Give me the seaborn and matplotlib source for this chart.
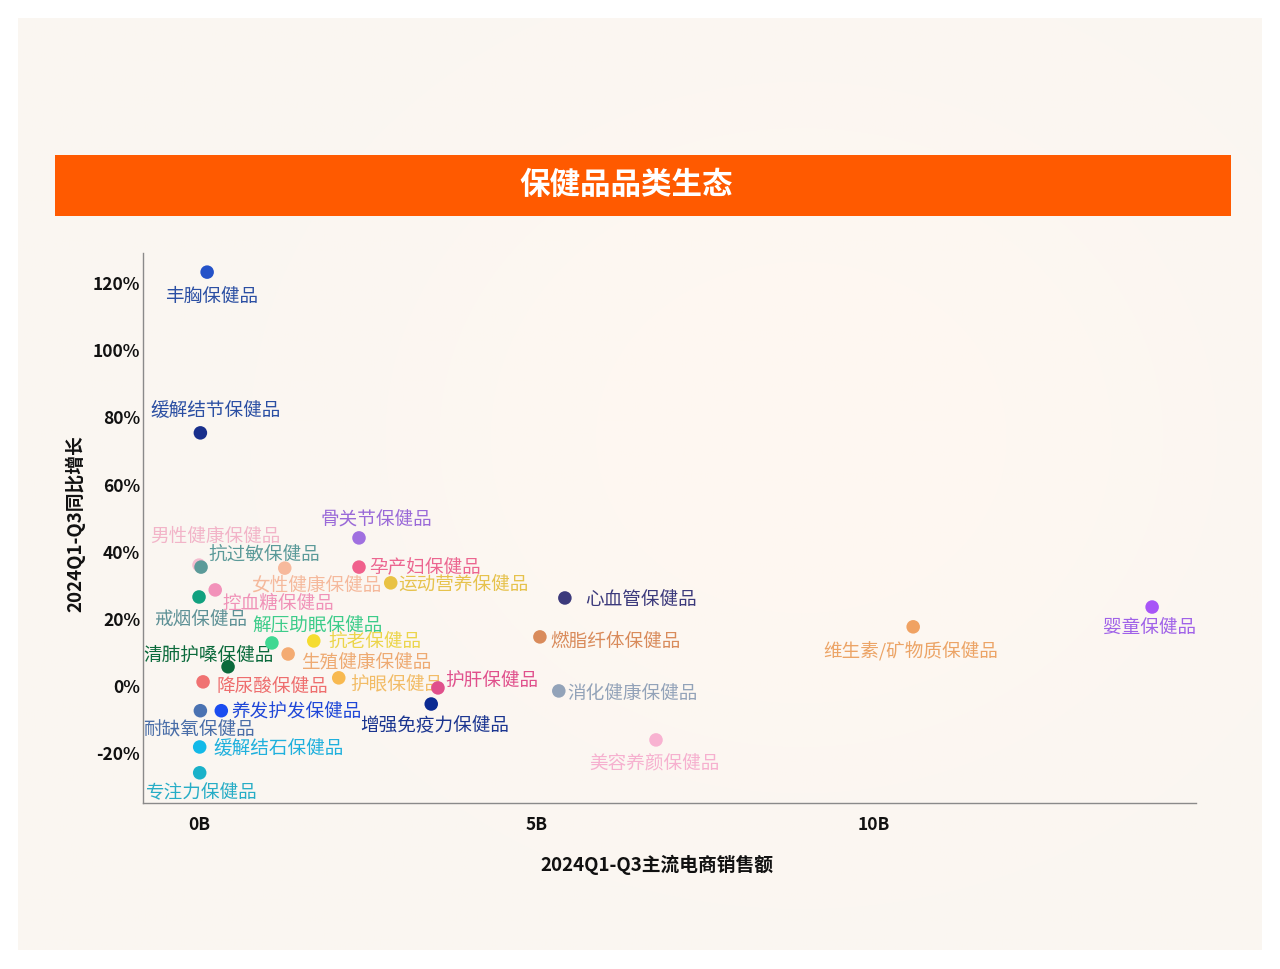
import numpy as np
import pandas as pd
import matplotlib
matplotlib.use("Agg")
import matplotlib.pyplot as plt
from matplotlib.patches import Rectangle
from matplotlib.colors import to_rgb
import seaborn as sns

# data
categories = [
    "丰胸保健品", "缓解结节保健品", "骨关节保健品", "男性健康保健品", "抗过敏保健品",
    "女性健康保健品", "孕产妇保健品", "运动营养保健品", "控血糖保健品", "戒烟保健品",
    "心血管保健品", "婴童保健品", "维生素/矿物质保健品", "燃脂纤体保健品", "解压助眠保健品",
    "抗老保健品", "生殖健康保健品", "清肺护嗓保健品", "护眼保健品", "护肝保健品",
    "降尿酸保健品", "消化健康保健品", "增强免疫力保健品", "养发护发保健品", "耐缺氧保健品",
    "缓解结石保健品", "美容养颜保健品", "专注力保健品",
]
sales_b = [
    0.12, 0.02, 2.37, 0.00, 0.03,
    1.27, 2.37, 2.84, 0.24, 0.00,
    5.42, 14.12, 10.58, 5.05, 1.08,
    1.70, 1.32, 0.43, 2.07, 3.54,
    0.06, 5.33, 3.44, 0.33, 0.02,
    0.01, 6.77, 0.01,
]
growth_pct = [
    123.3, 75.4, 44.1, 36.0, 35.4,
    35.1, 35.4, 30.7, 28.6, 26.5,
    26.2, 23.5, 17.6, 14.6, 12.8,
    13.4, 9.5, 5.7, 2.4, -0.6,
    1.2, -1.5, -5.4, -7.4, -7.4,
    -18.2, -16.1, -25.9,
]

# styling: dot colour, label colour, label offset (px) and alignment
dot_colors = [
    "#2452c8", "#182f8c", "#a070e0", "#f4bccf", "#5b9a99",
    "#f7b99c", "#f0608c", "#e9c244", "#f292ba", "#11a17f",
    "#3c3a7c", "#a855f7", "#f0a262", "#d98b5b", "#3fd892",
    "#f5dc30", "#f4ab72", "#0b6a3c", "#f8b950", "#e0508c",
    "#f07272", "#93a3b9", "#0b2a92", "#1a4cf0", "#4a72b2",
    "#12b9e8", "#f8b2d1", "#19b1c9",
]
label_colors = [
    "#2b4fa3", "#2b4fa3", "#9a6ad8", "#f2b4c8", "#5b9a99",
    "#f5b99c", "#ec6690", "#e6c24c", "#f092b8", "#5e9196",
    "#3c3a7c", "#a062e8", "#eca466", "#d98b5b", "#3dcc8a",
    "#ecd54a", "#eeaa72", "#0b6a3c", "#f2bc66", "#e0508c",
    "#ee6e6e", "#93a3b9", "#1b3590", "#1f47d8", "#4a6ea8",
    "#1fb0dd", "#f6b0cf", "#27adc6",
]
label_offsets = [
    (4, -23, "center"), (15, 24, "center"), (17, 20, "center"), (16, 30, "center"), (7, 14, "left"),
    (32, -15, "center"), (10, 2, "left"), (8, 0, "left"), (7, -12, "left"), (2, -21, "center"),
    (20, 0, "left"), (-3, -19, "center"), (-2, -22, "center"), (10, -3, "left"), (46, 20, "center"),
    (15, 1, "left"), (13, -6, "left"), (-20, 13, "center"), (12, -4, "left"), (7, 9, "left"),
    (13, -3, "left"), (9, -1, "left"), (3, -19, "center"), (10, 1, "left"), (-1, -17, "center"),
    (14, 0, "left"), (-2, -22, "center"), (2, -17, "center"),
]

x_ticks = [0, 5, 10]
x_tick_labels = ["0B", "5B", "10B"]
y_ticks = [-20, 0, 20, 40, 60, 80, 100, 120]
y_tick_labels = ["-20%", "0%", "20%", "40%", "60%", "80%", "100%", "120%"]

df = pd.DataFrame({"category": categories, "sales": sales_b, "growth": growth_pct})

sns.set_theme(style="white")
plt.rcParams["font.family"] = ["Noto Sans CJK SC", "DejaVu Sans"]
plt.rcParams["axes.unicode_minus"] = False

W, H = 1280, 969
fig = plt.figure(figsize=(W / 100, H / 100), dpi=100)
fig.patch.set_facecolor("white")

# cream panel with a soft warm glow
bg = fig.add_axes([18 / W, 19 / H, 1244 / W, 932 / H])
bg.set_axis_off()
gx, gy = np.meshgrid(np.linspace(0, 1, 400), np.linspace(0, 1, 300))
r2 = ((gx - 0.63) / 0.35) ** 2 + ((gy - 0.45) / 0.4) ** 2
t = (1 - np.exp(-r2))[..., None]
inner = np.array(to_rgb("#fff8f1"))
outer = np.array(to_rgb("#faf6f1"))
bg.imshow(inner * (1 - t) + outer * t, aspect="auto", extent=[0, 1, 0, 1],
          interpolation="bilinear")

# title bar
fig.patches.append(Rectangle((55 / W, 1 - 216 / H), 1176 / W, 61 / H,
                             transform=fig.transFigure, facecolor="#ff5a00",
                             edgecolor="none", zorder=1))
fig.text(626 / W, 1 - 185 / H, "保健品品类生态", color="white", fontsize=22,
         fontweight="bold", ha="center", va="center")

ax = fig.add_axes([143 / W, 166 / H, 1053 / W, 550 / H])
ax.set_facecolor("none")

palette = dict(zip(categories, dot_colors))
sns.scatterplot(data=df, x="sales", y="growth", hue="category", palette=palette,
                s=95, edgecolor="none", legend=False, ax=ax, zorder=5)

for cat, x, y, lc, (dx, dy, ha) in zip(categories, sales_b, growth_pct, label_colors, label_offsets):
    ax.annotate(cat, (x, y), xytext=(dx, dy - 2), textcoords="offset pixels",
                ha=ha, va="center", fontsize=13.4, color=lc, zorder=4)

ax.set_xlim(-0.83, 14.77)
ax.set_ylim(-34.9, 129)
ax.set_xticks(x_ticks)
ax.set_xticklabels(x_tick_labels, fontsize=12.5, fontweight="bold")
ax.set_yticks(y_ticks)
ax.set_yticklabels(y_tick_labels, fontsize=12.5, fontweight="bold")
ax.tick_params(axis="both", length=0, colors="#111111")
ax.tick_params(axis="x", pad=9)
ax.tick_params(axis="y", pad=2)
for side in ["top", "right"]:
    ax.spines[side].set_visible(False)
for side in ["left", "bottom"]:
    ax.spines[side].set_color("#8a8a8a")
    ax.spines[side].set_linewidth(1.0)

ax.set_xlabel("2024Q1-Q3主流电商销售额", fontsize=13.5, fontweight="bold", color="#111111")
ax.set_ylabel("2024Q1-Q3同比增长", fontsize=13.5, fontweight="bold", color="#111111")
ax.xaxis.set_label_coords((657 - 143) / 1053, -(865 - 803) / 550)
ax.yaxis.set_label_coords(-(143 - 75) / 1053, (803 - 524) / 550)
ax.xaxis.label.set_va("center")
ax.yaxis.label.set_va("center")

fig.savefig("out.png", dpi=100)
